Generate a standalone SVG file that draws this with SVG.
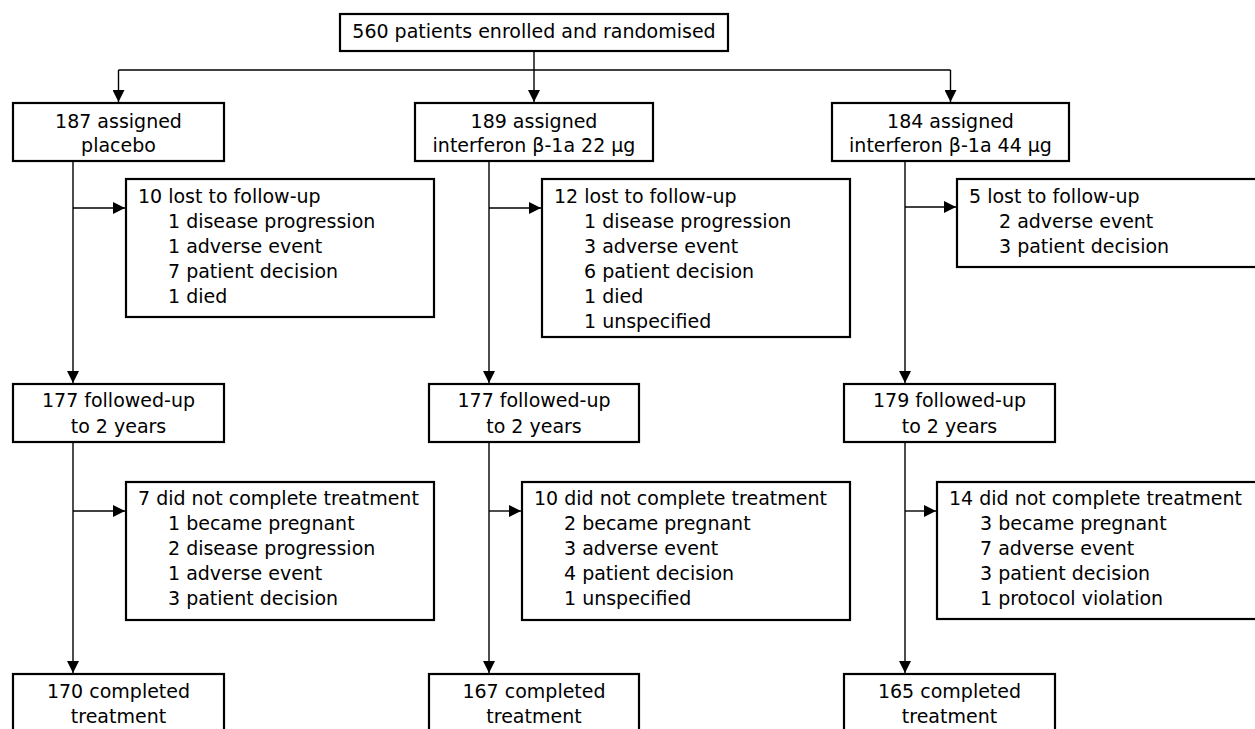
<svg xmlns="http://www.w3.org/2000/svg" width="1255" height="729" viewBox="0 0 1255 729">
<style>
.box{fill:#fff;stroke:#000;stroke-width:2.2}
.ln{fill:none;stroke:#000;stroke-width:1.4}
text{font-family:"DejaVu Sans","Liberation Sans",sans-serif;font-size:19px;fill:#000}
.c{text-anchor:middle}
</style>
<defs>
<marker id="ah" viewBox="0 0 12 12" markerWidth="12" markerHeight="12" refX="12" refY="6" orient="auto" markerUnits="userSpaceOnUse">
<path d="M0,0 L12,6 L0,12 z" fill="#000"/>
</marker>
</defs>
<rect width="1255" height="729" fill="#fff"/>
<g id="connectors">
<path class="ln" d="M534,51 V70"/>
<path class="ln" d="M118.5,70 H950.5"/>
<path class="ln" d="M118.5,70 V102" marker-end="url(#ah)"/>
<path class="ln" d="M534,70 V102" marker-end="url(#ah)"/>
<path class="ln" d="M950.5,70 V102" marker-end="url(#ah)"/>
<path class="ln" d="M73,161 V383" marker-end="url(#ah)"/>
<path class="ln" d="M489,161 V383" marker-end="url(#ah)"/>
<path class="ln" d="M905,161 V383" marker-end="url(#ah)"/>
<path class="ln" d="M73,442 V673" marker-end="url(#ah)"/>
<path class="ln" d="M489,442 V673" marker-end="url(#ah)"/>
<path class="ln" d="M905,442 V673" marker-end="url(#ah)"/>
<path class="ln" d="M73,208 H125" marker-end="url(#ah)"/>
<path class="ln" d="M489,208 H541" marker-end="url(#ah)"/>
<path class="ln" d="M905,207 H956" marker-end="url(#ah)"/>
<path class="ln" d="M73,511 H125" marker-end="url(#ah)"/>
<path class="ln" d="M489,511 H521" marker-end="url(#ah)"/>
<path class="ln" d="M905,511 H936" marker-end="url(#ah)"/>
</g>
<g id="enrolled">
<rect class="box" x="340" y="14" width="388" height="37"/>
<text class="c" x="534" y="38">560 patients enrolled and randomised</text>
</g>
<g id="placebo">
<rect class="box" x="13" y="103" width="211" height="58"/>
<text class="c" x="118.5" y="128">187 assigned</text>
<text class="c" x="118.5" y="152">placebo</text>
</g>
<g id="ifn22">
<rect class="box" x="415" y="103" width="238" height="58"/>
<text class="c" x="534" y="128">189 assigned</text>
<text class="c" x="534" y="152">interferon β-1a 22 μg</text>
</g>
<g id="ifn44">
<rect class="box" x="832" y="103" width="237" height="58"/>
<text class="c" x="950.5" y="128">184 assigned</text>
<text class="c" x="950.5" y="152">interferon β-1a 44 μg</text>
</g>
<g id="lost-placebo">
<rect class="box" x="126" y="179" width="308" height="138"/>
<text x="138" y="203">10 lost to follow-up</text>
<text x="168" y="228">1 disease progression</text>
<text x="168" y="253">1 adverse event</text>
<text x="168" y="278">7 patient decision</text>
<text x="168" y="303">1 died</text>
</g>
<g id="lost-ifn22">
<rect class="box" x="542" y="179" width="308" height="158"/>
<text x="554" y="203">12 lost to follow-up</text>
<text x="584" y="228">1 disease progression</text>
<text x="584" y="253">3 adverse event</text>
<text x="584" y="278">6 patient decision</text>
<text x="584" y="303">1 died</text>
<text x="584" y="328">1 unspecified</text>
</g>
<g id="lost-ifn44">
<rect class="box" x="957" y="179" width="310" height="88"/>
<text x="969" y="203">5 lost to follow-up</text>
<text x="999" y="228">2 adverse event</text>
<text x="999" y="253">3 patient decision</text>
</g>
<g id="fu-placebo">
<rect class="box" x="13" y="384" width="211" height="58"/>
<text class="c" x="118.5" y="407">177 followed-up</text>
<text class="c" x="118.5" y="433">to 2 years</text>
</g>
<g id="fu-ifn22">
<rect class="box" x="429" y="384" width="210" height="58"/>
<text class="c" x="534" y="407">177 followed-up</text>
<text class="c" x="534" y="433">to 2 years</text>
</g>
<g id="fu-ifn44">
<rect class="box" x="844" y="384" width="211" height="58"/>
<text class="c" x="949.5" y="407">179 followed-up</text>
<text class="c" x="949.5" y="433">to 2 years</text>
</g>
<g id="dnc-placebo">
<rect class="box" x="126" y="482" width="308" height="138"/>
<text x="138" y="505">7 did not complete treatment</text>
<text x="168" y="530">1 became pregnant</text>
<text x="168" y="555">2 disease progression</text>
<text x="168" y="580">1 adverse event</text>
<text x="168" y="605">3 patient decision</text>
</g>
<g id="dnc-ifn22">
<rect class="box" x="522" y="482" width="328" height="138"/>
<text x="534" y="505">10 did not complete treatment</text>
<text x="564" y="530">2 became pregnant</text>
<text x="564" y="555">3 adverse event</text>
<text x="564" y="580">4 patient decision</text>
<text x="564" y="605">1 unspecified</text>
</g>
<g id="dnc-ifn44">
<rect class="box" x="937" y="482" width="330" height="137"/>
<text x="949" y="505">14 did not complete treatment</text>
<text x="980" y="530">3 became pregnant</text>
<text x="980" y="555">7 adverse event</text>
<text x="980" y="580">3 patient decision</text>
<text x="980" y="605">1 protocol violation</text>
</g>
<g id="done-placebo">
<rect class="box" x="13" y="674" width="211" height="70"/>
<text class="c" x="118.5" y="698">170 completed</text>
<text class="c" x="118.5" y="723">treatment</text>
</g>
<g id="done-ifn22">
<rect class="box" x="429" y="674" width="210" height="70"/>
<text class="c" x="534" y="698">167 completed</text>
<text class="c" x="534" y="723">treatment</text>
</g>
<g id="done-ifn44">
<rect class="box" x="844" y="674" width="211" height="70"/>
<text class="c" x="949.5" y="698">165 completed</text>
<text class="c" x="949.5" y="723">treatment</text>
</g>
</svg>
